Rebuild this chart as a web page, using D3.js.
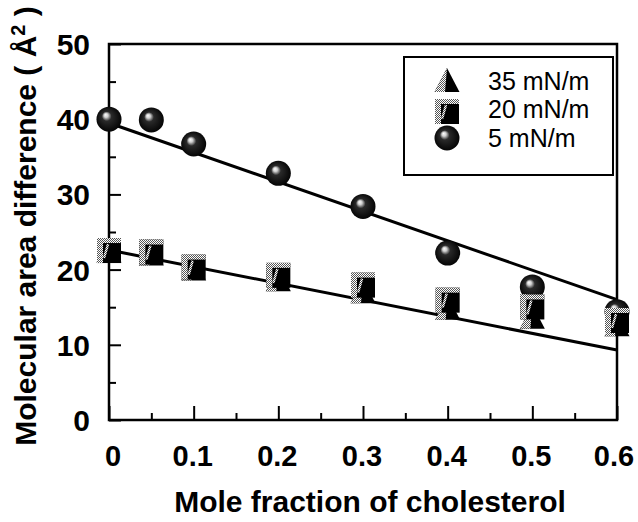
<!DOCTYPE html>
<html><head><meta charset="utf-8">
<script src="https://cdn.jsdelivr.net/npm/d3@7"></script>
<style>body{margin:0;background:#fff;} svg{display:block;}</style>
</head><body>
<svg id="c" width="638" height="522"></svg>
<script>
const xValues = [0, 0.05, 0.1, 0.2, 0.3, 0.4, 0.5, 0.6];
const circle5 = [40.0, 39.9, 36.7, 32.8, 28.4, 22.2, 17.7, 14.4];
const square20 = [22.6, 22.4, 20.4, 19.3, 18.0, 16.0, 15.1, 13.3];
const tri35 = [22.4, 22.0, 20.0, 18.6, 17.0, 14.8, 13.6, 12.6];
const fitUpper = [[0, 39.5], [0.6, 16.0]];
const fitLower = [[0, 22.6], [0.6, 9.3]];
const xTicks = [0, 0.1, 0.2, 0.3, 0.4, 0.5, 0.6];
const xTickLabels = ["0", "0.1", "0.2", "0.3", "0.4", "0.5", "0.6"];
const yTicks = [0, 10, 20, 30, 40, 50];
const legendLabels = ["35 mN/m", "20 mN/m", "5 mN/m"];

const svg = d3.select("#c");
const x = d3.scaleLinear().domain([0, 0.6]).range([109, 617]);
const y = d3.scaleLinear().domain([0, 50]).range([420, 44]);
const F = "'Liberation Sans', Arial, Helvetica, sans-serif";

const defs = svg.append("defs");
const rg = defs.append("radialGradient").attr("id", "sph").attr("cx", "0.5").attr("cy", "0.5").attr("r", "0.55").attr("fx", "0.36").attr("fy", "0.32");
rg.append("stop").attr("offset", "0").attr("stop-color", "#ffffff");
rg.append("stop").attr("offset", "0.15").attr("stop-color", "#d0d0d0");
rg.append("stop").attr("offset", "0.35").attr("stop-color", "#2a2a2a");
rg.append("stop").attr("offset", "1").attr("stop-color", "#000");
const pat = defs.append("pattern").attr("id", "dith").attr("width", 2).attr("height", 2).attr("patternUnits", "userSpaceOnUse");
pat.append("rect").attr("width", 2).attr("height", 2).attr("fill", "#fff");
pat.append("rect").attr("width", 1).attr("height", 1).attr("fill", "#555");
pat.append("rect").attr("x", 1).attr("y", 1).attr("width", 1).attr("height", 1).attr("fill", "#555");

// frame
svg.append("rect").attr("x", x(0)).attr("y", y(50)).attr("width", x(0.6) - x(0)).attr("height", y(0) - y(50))
  .attr("fill", "none").attr("stroke", "#000").attr("stroke-width", 2.5);

// x axis ticks (inward)
const xAxis = d3.axisBottom(x).tickValues(d3.range(0, 0.6001, 0.05)).tickSizeInner(-7).tickSizeOuter(0).tickFormat("");
const gx = svg.append("g").attr("transform", `translate(0,${y(0)})`).call(xAxis);
gx.select(".domain").remove();
gx.selectAll(".tick line").attr("stroke-width", 2)
  .attr("y2", (d, i) => (i % 2 === 0 ? -14 : -7));
svg.append("g").selectAll("text").data(xTicks).join("text")
  .attr("x", (d, i) => x(d) + (i === 0 ? 4 : (i === 6 ? -3 : -1))).attr("y", 466)
  .attr("text-anchor", "middle").attr("font-family", F).attr("font-weight", "bold").attr("font-size", 29)
  .text((d, i) => xTickLabels[i]);

// y axis ticks
const yAxis = d3.axisLeft(y).tickValues(d3.range(0, 50.001, 5)).tickSizeInner(-7).tickSizeOuter(0).tickFormat("");
const gy = svg.append("g").attr("transform", `translate(${x(0)},0)`).call(yAxis);
gy.select(".domain").remove();
gy.selectAll(".tick line").attr("stroke-width", 2)
  .attr("x2", (d, i) => (i % 2 === 0 ? 12 : 7));
svg.append("g").selectAll("text").data(yTicks).join("text")
  .attr("x", 90).attr("y", d => y(d) + 11)
  .attr("text-anchor", "end").attr("font-family", F).attr("font-weight", "bold").attr("font-size", 30)
  .text(d => d);

// axis titles
svg.append("text").attr("x", 370).attr("y", 512).attr("text-anchor", "middle")
  .attr("font-family", F).attr("font-weight", "bold").attr("font-size", 30)
  .text("Mole fraction of cholesterol");
const yt = svg.append("text").attr("transform", "translate(36,226) rotate(-90)").attr("text-anchor", "middle")
  .attr("font-family", F).attr("font-weight", "bold").attr("font-size", 30);
yt.append("tspan").text("Molecular area difference ( Å");
yt.append("tspan").attr("font-size", 20).attr("dy", -11).text("2");
yt.append("tspan").attr("dy", 11).text(" )");

// fit lines
const line = d3.line().x(d => x(d[0])).y(d => y(d[1]));
[fitUpper, fitLower].forEach(f => svg.append("path").attr("d", line(f)).attr("fill", "none").attr("stroke", "#000").attr("stroke-width", 3));

// marker drawers
function drawCircle(g, cx, cy) {
  g.append("circle").attr("cx", cx).attr("cy", cy).attr("r", 12.5).attr("fill", "url(#sph)");
}
function drawSquare(g, cx, cy) {
  g.append("rect").attr("x", cx - 12).attr("y", cy - 12).attr("width", 24).attr("height", 25).attr("fill", "#000");
  g.append("rect").attr("x", cx - 12).attr("y", cy - 12).attr("width", 24).attr("height", 5).attr("fill", "url(#dith)");
  g.append("rect").attr("x", cx - 12).attr("y", cy - 12).attr("width", 6).attr("height", 25).attr("fill", "url(#dith)");
  g.append("path").attr("d", `M${cx - 1},${cy - 6} L${cx - 5},${cy + 8}`).attr("stroke", "url(#dith)").attr("stroke-width", 2.5);
}
function drawTri(g, cx, cy) {
  g.append("path").attr("d", `M${cx},${cy - 13} L${cx + 12.5},${cy + 11} L${cx - 12.5},${cy + 11} Z`).attr("fill", "#000");
  g.append("path").attr("d", `M${cx},${cy - 13} L${cx - 2},${cy + 11} L${cx - 12.5},${cy + 11} Z`).attr("fill", "url(#dith)");
}

const gm = svg.append("g");
xValues.forEach((v, i) => drawCircle(gm, x(v), y(circle5[i])));
xValues.forEach((v, i) => drawTri(gm, x(v), y(tri35[i])));
xValues.forEach((v, i) => drawSquare(gm, x(v), y(square20[i])));

// legend
const lg = svg.append("g");
lg.append("rect").attr("x", 404).attr("y", 57).attr("width", 209).attr("height", 118)
  .attr("fill", "#fff").attr("stroke", "#000").attr("stroke-width", 2);
const ly = [81, 111, 138];
const lb = [90, 118, 147];
drawTri(lg, 447, ly[0]);
drawSquare(lg, 447, ly[1]);
drawCircle(lg, 447, ly[2]);
lg.selectAll("text.l").data(legendLabels).join("text").attr("class", "l")
  .attr("x", 488).attr("y", (d, i) => lb[i]).attr("font-family", F).attr("font-size", 25)
  .text(d => d);
</script>
</body></html>
